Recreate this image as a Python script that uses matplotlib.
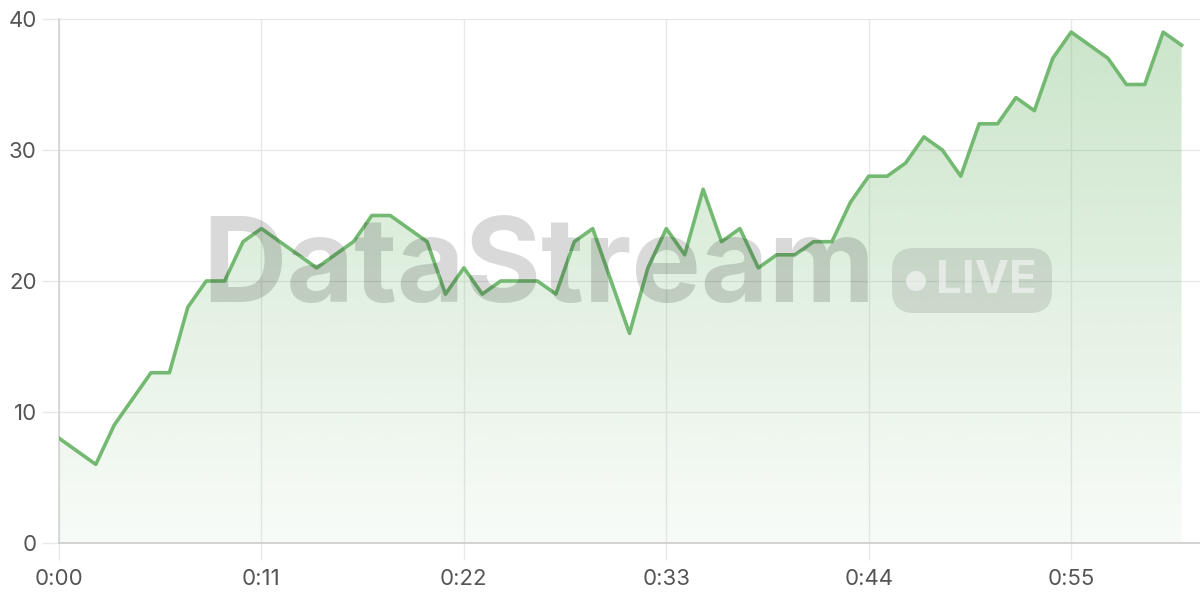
import numpy as np
import matplotlib.pyplot as plt
from matplotlib.colors import to_rgb
from matplotlib.patches import FancyBboxPatch, Circle

plt.rcParams['font.family'] = ['Inter', 'DejaVu Sans']

# one reading per second, 0:00 .. 1:01
seconds = list(range(62))
values = [8, 7, 6, 9, 11, 13, 13, 18, 20, 20,
          23, 24, 23, 22, 21, 22, 23, 25, 25, 24,
          23, 19, 21, 19, 20, 20, 20, 19, 23, 24,
          20, 16, 21, 24, 22, 27, 23, 24, 21, 22,
          22, 23, 23, 26, 28, 28, 29, 31, 30, 28,
          32, 32, 34, 33, 37, 39, 38, 37, 35, 35,
          39, 38]
xticks = [0, 11, 22, 33, 44, 55]
xticklabels = ['0:00', '0:11', '0:22', '0:33', '0:44', '0:55']
yticks = [0, 10, 20, 30, 40]

line_color = '#74b972'
grid_color = '#e8e8e8'
label_color = '#555555'

fig = plt.figure(figsize=(12, 6), dpi=100)
ax = fig.add_axes([59 / 1200, 57 / 600, 1141 / 1200, 524 / 600])
ax.set_xlim(0, 62)
ax.set_ylim(0, 40)

# gradient area under the line
x = np.array(seconds)
y = np.array(values)
poly = ax.fill_between(x, y, 0, facecolor='none', edgecolor='none')
r, g, b = to_rgb(line_color)
grad = np.zeros((256, 1, 4))
grad[:, 0, 0], grad[:, 0, 1], grad[:, 0, 2] = r, g, b
grad[:, 0, 3] = np.linspace(0.05, 0.38, 256)
img = ax.imshow(grad, aspect='auto', origin='lower',
                extent=[x.min(), x.max(), 0, 40], zorder=1)
img.set_clip_path(poly.get_paths()[0], transform=ax.transData)

ax.plot(x, y, color=line_color, lw=2.6, zorder=3)

ax.set_xticks(xticks)
ax.set_xticklabels(xticklabels)
ax.set_yticks(yticks)
ax.grid(True, color=grid_color, lw=1, zorder=0)
ax.set_axisbelow(True)
for s in ['top', 'right']:
    ax.spines[s].set_visible(False)
ax.spines['left'].set_color('#d4d4d4')
ax.spines['bottom'].set_color('#cccccc')
ax.spines['left'].set_linewidth(1.2)
ax.spines['bottom'].set_linewidth(1.2)
ax.tick_params(axis='both', length=12, width=1, color=grid_color,
               labelcolor=label_color, labelsize=16)
ax.tick_params(axis='x', pad=7)
ax.tick_params(axis='y', pad=4)

# watermark overlay in pixel space
ov = fig.add_axes([0, 0, 1, 1], zorder=10)
ov.set_xlim(0, 1200)
ov.set_ylim(600, 0)
ov.axis('off')
ov.patch.set_alpha(0)
ov.text(539, 271, 'DataStream', ha='center', va='center', fontsize=84,
        fontweight='bold', color=(0, 0, 0, 0.15))
ov.add_patch(FancyBboxPatch((892, 248), 160, 65,
                            boxstyle='round,pad=0,rounding_size=22',
                            fc=(0, 0, 0, 0.1), ec='none'))
ov.add_patch(Circle((916, 281), 10, fc=(1, 1, 1, 0.55), ec='none'))
ov.text(986, 281, 'LIVE', ha='center', va='center', fontsize=33,
        fontweight='bold', color=(1, 1, 1, 0.5))

fig.savefig('out.png', dpi=100, facecolor='white')
